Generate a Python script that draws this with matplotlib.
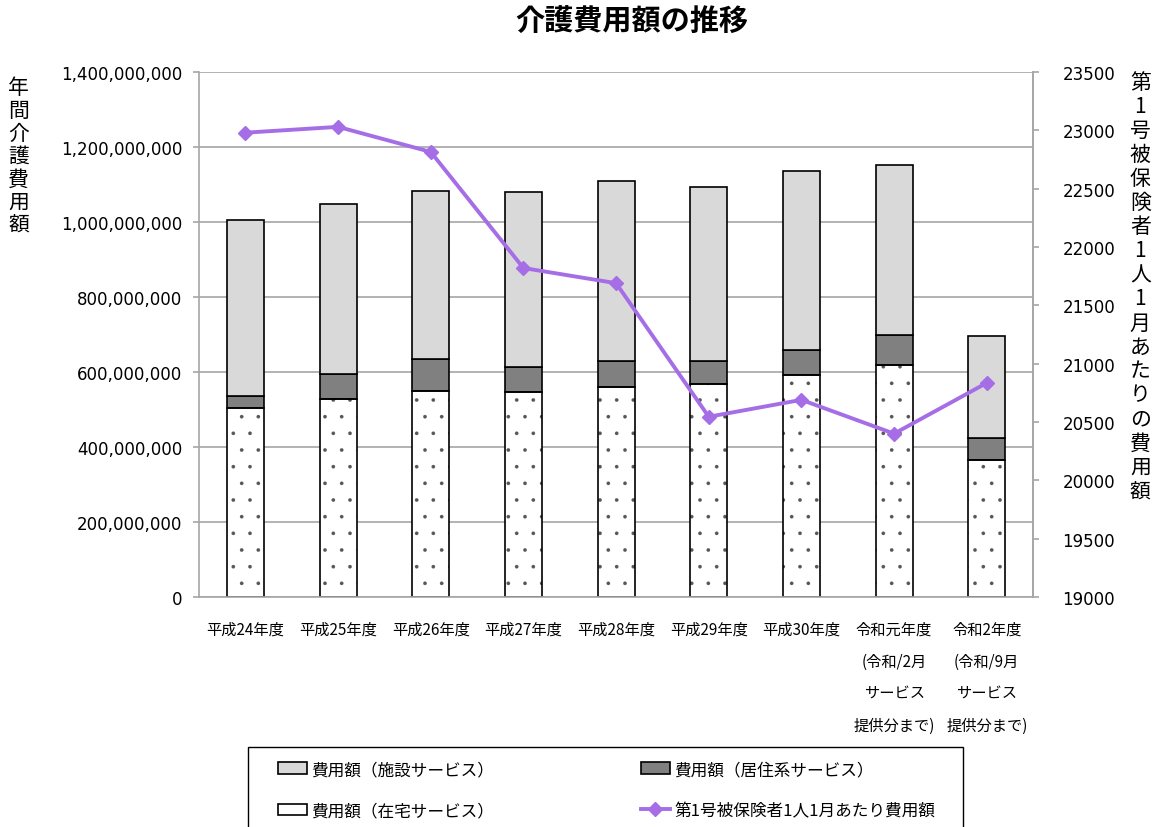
"""介護費用額の推移 (stacked bars + per-capita line)."""
import matplotlib

matplotlib.use("Agg")
import matplotlib.pyplot as plt  # noqa: E402
from matplotlib.patches import Rectangle  # noqa: E402
from matplotlib.ticker import FuncFormatter, MultipleLocator  # noqa: E402

plt.rcParams["font.family"] = ["Noto Sans CJK JP", "DejaVu Sans"]
plt.rcParams["hatch.linewidth"] = 0.2

years = [
    "平成24年度", "平成25年度", "平成26年度", "平成27年度", "平成28年度",
    "平成29年度", "平成30年度",
    "令和元年度\n(令和/2月\nサービス\n提供分まで)",
    "令和2年度\n(令和/9月\nサービス\n提供分まで)",
]
# annual cost, yen
home = [504e6, 528e6, 549e6, 547e6, 560e6, 568e6, 592e6, 619e6, 365e6]
residential = [32e6, 67e6, 86e6, 66e6, 69e6, 61e6, 67e6, 80e6, 59e6]
facility = [469e6, 453e6, 448e6, 467e6, 480e6, 464e6, 477e6, 453e6, 272e6]
# monthly cost per insured person, yen
per_person = [22980, 23030, 22815, 21820, 21690, 20545, 20690, 20400, 20835]

GRID = "#a6a6a6"
LINE = "#a66ee6"

fig = plt.figure(figsize=(11.6, 8.28), dpi=100)
ax = fig.add_axes([0.1716, 0.2778, 0.7190, 0.6340])
x = list(range(len(years)))
w = 0.4

# dotted fill in grey, outline drawn on top in black
b_dots = ax.bar(x, home, w, color="white", edgecolor="#555555", linewidth=0,
                hatch=".", zorder=2)
b_home = ax.bar(x, home, w, fill=False, edgecolor="black", linewidth=1.2,
                zorder=2.1)
res_bottom = home
b_res = ax.bar(x, residential, w, bottom=res_bottom, color="#808080",
               edgecolor="black", linewidth=1.2, zorder=2)
fac_bottom = [h + r for h, r in zip(home, residential)]
b_fac = ax.bar(x, facility, w, bottom=fac_bottom, color="#d9d9d9",
               edgecolor="black", linewidth=1.2, zorder=2)

ax.set_xlim(-0.5, len(years) - 0.5)
ax.set_ylim(0, 1.4e9)
ax.yaxis.set_major_locator(MultipleLocator(2e8))
ax.yaxis.set_major_formatter(FuncFormatter(lambda v, p: f"{int(v):,}"))
ax.grid(axis="y", color=GRID, linewidth=1.2, zorder=0)
ax.set_axisbelow(True)
ax.set_xticks(x)
ax.set_xticklabels(years, fontsize=11, linespacing=2.15, va="top")
ax.tick_params(axis="x", length=0, pad=17)
ax.tick_params(axis="y", length=4, color=GRID, width=1.2, pad=8)
for lbl in ax.get_yticklabels():
    lbl.set_family("DejaVu Sans")
    lbl.set_fontsize(12)
ax.spines["top"].set_visible(False)
for s in ("left", "right", "bottom"):
    ax.spines[s].set_color(GRID)
    ax.spines[s].set_linewidth(1.2)

ax2 = ax.twinx()
ln, = ax2.plot(x, per_person, color=LINE, linewidth=2.8, marker="D",
               markersize=7, zorder=3)
ax2.set_ylim(19000, 23500)
ax2.yaxis.set_major_locator(MultipleLocator(500))
ax2.tick_params(axis="y", length=4, color=GRID, width=1.2, pad=17)
for lbl in ax2.get_yticklabels():
    lbl.set_family("DejaVu Sans")
    lbl.set_fontsize(12)
for s in ("top", "left", "bottom"):
    ax2.spines[s].set_visible(False)
ax2.spines["right"].set_color(GRID)
ax2.spines["right"].set_linewidth(1.2)

fig.text(0.545, 0.973, "介護費用額の推移", ha="center", va="center",
         fontsize=21, fontweight="bold")
fig.text(0.016, 0.907, "\n".join("年間介護費用額"), ha="center", va="top",
         fontsize=15, linespacing=1.05)
fig.text(0.983, 0.913, "\n".join("第1号被保険者1人1月あたりの費用額"),
         ha="center", va="top", fontsize=15, linespacing=1.12)

# legend frame runs past the bottom edge of the figure
fig.patches.append(Rectangle((248 / 1160, -0.02), (963 - 248) / 1160,
                             (828 - 748) / 828 + 0.02,
                             transform=fig.transFigure, facecolor="white",
                             edgecolor="black", linewidth=1.0, zorder=0))
fig.legend([b_fac, (b_dots, b_home), b_res, ln],
           ["費用額（施設サービス）", "費用額（在宅サービス）",
            "費用額（居住系サービス）", "第1号被保険者1人1月あたり費用額"],
           loc="upper left",
           bbox_to_anchor=(278 / 1160, 0.0, (935 - 278) / 1160, 1 - 762 / 828),
           mode="expand", ncol=2, fontsize=12, frameon=False,
           labelspacing=1.45, handlelength=1.75, handletextpad=0.25,
           borderaxespad=0, borderpad=0)

fig.savefig("out.png", dpi=100)
plt.close(fig)
